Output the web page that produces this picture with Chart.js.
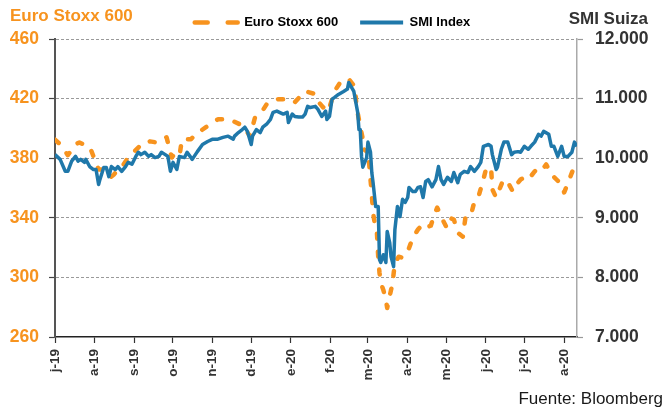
<!DOCTYPE html>
<html>
<head>
<meta charset="utf-8">
<script src="https://cdn.jsdelivr.net/npm/chart.js@4/dist/chart.umd.min.js"></script>
<style>
  html, body { margin: 0; padding: 0; background: #fff; }
  #wrap { width: 665px; height: 410px; position: relative; }
</style>
</head>
<body>
<div id="wrap"><canvas id="c" width="665" height="410"></canvas></div>
<script>
// ---- DATA ----
// x values: days since 1 Jul 2019
const xTickDays   = [0, 31, 62, 92, 123, 153, 184, 215, 244, 275, 305, 336, 366, 397];
const xTickLabels = ['j-19','a-19','s-19','o-19','n-19','d-19','e-20','f-20','m-20','a-20','m-20','j-20','j-20','a-20'];
const leftTicks   = [260, 300, 340, 380, 420, 460];
const rightTicks  = [7000, 8000, 9000, 10000, 11000, 12000];
const rightTickLabels = ['7.000','8.000','9.000','10.000','11.000','12.000'];

const smiDays = [0,4,8,10,13,16,18,20,23,24,27,30,32,34,35,38,40,42,44,47,49,52,55,57,60,63,65,67,70,73,75,78,81,83,86,88,90,92,95,97,101,103,107,111,115,119,123,127,131,135,139,140,143,146,148,150,153,154,157,160,162,165,168,170,173,175,178,181,182,185,187,190,193,195,197,199,203,205,208,211,212,214,216,218,221,225,228,229,232,233,236,237,238,239,240,243,244,246,247,248,250,252,253,254,256,258,259,261,262,264,265,267,269,271,273,275,276,279,281,283,285,287,289,291,294,297,299,301,303,306,309,311,314,316,319,322,324,327,330,332,334,338,340,341,344,345,348,350,353,356,358,361,363,366,369,371,374,377,379,381,385,387,389,392,395,397,400,403,405,407];
const smiValues = [10060,9980,9780,9780,9950,10030,9950,9980,9930,9980,9860,9810,9810,9560,9640,9845,9845,9690,9860,9810,9860,9780,9860,9930,9900,10030,10100,10060,10100,10030,10060,10010,10030,10100,10060,10030,9780,9930,9810,10030,10010,10100,9980,10110,10230,10280,10320,10320,10350,10370,10320,10370,10430,10480,10520,10450,10230,10370,10480,10430,10520,10570,10650,10770,10790,10770,10740,10770,10600,10740,10700,10690,10690,10740,10870,10850,10870,10820,10700,10790,10650,10700,10990,11020,11070,11120,11160,11270,11160,11120,10770,10480,10480,10030,9850,10010,10270,10100,9760,9590,9190,9190,8300,8250,8380,8250,8770,8580,8350,8180,8800,9190,9020,9310,9260,9340,9510,9440,9440,9510,9520,9340,9610,9640,9520,9640,9860,9640,9560,9680,9610,9760,9590,9730,9780,9760,9860,9780,9860,9930,10200,10230,10200,10060,9810,9850,10150,10270,10270,10060,10100,10110,10100,10200,10150,10200,10270,10400,10370,10450,10400,10200,10200,10030,10200,10030,10030,10100,10270,10200];

const stoxxDays = [0,4,6,10,16,19,22,27,30,34,37,40,43,46,49,52,57,62,69,74,79,82,87,91,93,97,99,106,111,113,121,127,136,144,148,150,152,156,161,165,171,174,181,183,187,195,203,205,209,213,218,223,229,234,235,238,240,241,243,244,247,248,250,251,252,253,254,256,258,259,262,263,265,268,271,275,277,279,283,285,287,291,293,295,298,301,305,307,311,314,318,320,324,327,330,334,336,340,341,344,349,352,354,357,360,363,366,369,374,377,380,383,387,391,395,397,401,404,406];
const stoxxValues = [392.5,389.3,387.3,382.0,389.3,390.6,389.3,387.9,381.2,372.5,372.5,369.1,367.1,369.1,372.5,373.8,380.5,384.6,390.6,391.3,390.6,392.7,394.0,380.5,382.6,381.2,392.7,392.7,397.4,398.0,402.8,406.1,406.1,402.8,400.7,397.4,394.7,407.5,410.8,416.2,418.2,419.6,419.6,418.2,417.6,425.0,423.0,418.2,414.2,411.5,425.0,431.7,433.1,427.7,414.9,401.4,392.7,385.9,384.6,385.9,355.6,343.5,332.1,330.0,313.9,303.1,296.4,291.6,284.9,279.5,291.6,295.0,309.8,313.9,313.2,317.2,322.0,326.7,332.1,334.1,332.1,334.1,334.7,340.0,346.9,340.8,334.1,340.1,338.8,330.0,327.3,340.1,340.8,350.9,353.6,365.7,372.5,373.8,359.0,353.6,364.4,361.0,362.4,357.6,362.4,365.7,367.1,365.7,371.1,373.8,372.5,375.8,369.1,365.7,362.4,357.0,365.7,372.5,374.5];

const seriesNames = ['Euro Stoxx 600', 'SMI Index'];

// ---- STYLE ----
const ORANGE = '#F7931E';
const BLUE = '#1F78AA';
const DARK = '#333333';
const FONT = "'Liberation Sans', Arial, Helvetica, sans-serif";
Chart.defaults.font.family = FONT;

const toPts = (xs, ys) => xs.map((x, i) => ({ x: x, y: ys[i] }));

const textPlugin = {
  id: 'texts',
  afterDraw(chart) {
    const ctx = chart.ctx;
    ctx.save();
    ctx.textBaseline = 'middle';
    ctx.font = "bold 17px " + FONT;
    ctx.fillStyle = ORANGE;
    ctx.textAlign = 'left';
    ctx.fillText('Euro Stoxx 600', 10, 16);
    ctx.fillStyle = DARK;
    ctx.textAlign = 'right';
    ctx.fillText('SMI Suiza', 648, 19);
    ctx.font = "17px " + FONT;
    ctx.fillStyle = '#1a1a1a';
    ctx.fillText('Fuente: Bloomberg', 663, 399);
    ctx.restore();
  }
};

new Chart(document.getElementById('c'), {
  type: 'line',
  data: {
    datasets: [
      {
        label: seriesNames[1],
        data: toPts(smiDays, smiValues),
        yAxisID: 'y2',
        borderColor: BLUE,
        backgroundColor: BLUE,
        borderWidth: 3.5,
        pointRadius: 0,
        tension: 0,
        borderJoinStyle: 'round'
      },
      {
        label: seriesNames[0],
        data: toPts(stoxxDays, stoxxValues),
        yAxisID: 'y',
        borderColor: ORANGE,
        backgroundColor: ORANGE,
        borderWidth: 4.5,
        borderDash: [5, 13],
        borderCapStyle: 'round',
        borderJoinStyle: 'round',
        pointRadius: 0,
        tension: 0
      }
    ]
  },
  options: {
    responsive: false,
    animation: false,
    events: [],
    layout: { padding: { top: -6, left: 0, right: 0, bottom: 0 } },
    plugins: {
      tooltip: { enabled: false },
      legend: {
        display: true,
        position: 'top',
        align: 'center',
        labels: {
          usePointStyle: true,
          pointStyleWidth: 43,
          padding: 22,
          color: DARK,
          font: { size: 13, weight: 'bold', family: FONT },
          generateLabels: () => [
            { text: seriesNames[0], fillStyle: ORANGE, strokeStyle: ORANGE, lineWidth: 4.5, lineDash: [13, 20], lineCap: 'round', pointStyle: 'line', hidden: false, datasetIndex: 1 },
            { text: seriesNames[1], fillStyle: BLUE, strokeStyle: BLUE, lineWidth: 4, lineDash: [], lineCap: 'butt', pointStyle: 'line', hidden: false, datasetIndex: 0 }
          ]
        }
      }
    },
    scales: {
      x: {
        type: 'linear',
        position: 'bottom',
        min: 0,
        max: 407,
        afterBuildTicks: (s) => { s.ticks = xTickDays.map(v => ({ value: v })); },
        afterFit: (s) => { s.height = 73; },
        ticks: {
          autoSkip: false,
          maxRotation: 90,
          minRotation: 90,
          padding: 6,
          color: DARK,
          font: { size: 13.5, weight: 'bold', family: FONT },
          callback: (v, i) => xTickLabels[i]
        },
        grid: { drawOnChartArea: false, drawTicks: true, tickLength: 6, tickColor: DARK, tickWidth: 1.2 },
        border: { display: true, color: '#222', width: 1.5 }
      },
      y: {
        type: 'linear',
        position: 'left',
        min: 260,
        max: 460,
        afterBuildTicks: (s) => { s.ticks = leftTicks.map(v => ({ value: v })); },
        afterFit: (s) => { s.width = 55; },
        ticks: {
          padding: 10,
          color: ORANGE,
          font: { size: 17.5, weight: 'bold', family: FONT }
        },
        grid: {
          drawOnChartArea: true,
          color: (c) => (c.tick && c.tick.value === 260) ? 'rgba(0,0,0,0)' : '#9a9a9a',
          lineWidth: 1,
          tickLength: 6,
          tickColor: '#444',
          tickWidth: 1.2
        },
        border: { display: true, color: '#555', width: 2, dash: [3, 2] }
      },
      y2: {
        type: 'linear',
        position: 'right',
        min: 7000,
        max: 12000,
        afterBuildTicks: (s) => { s.ticks = rightTicks.map(v => ({ value: v })); },
        afterFit: (s) => { s.width = 88; },
        ticks: {
          padding: 12,
          color: DARK,
          font: { size: 17.5, weight: 'bold', family: FONT },
          callback: (v, i) => rightTickLabels[i]
        },
        grid: { drawOnChartArea: false, tickLength: 6, tickColor: '#999', tickWidth: 1.2 },
        border: { display: true, color: '#aaa', width: 1.5 }
      }
    }
  },
  plugins: [textPlugin]
});
</script>
</body>
</html>
